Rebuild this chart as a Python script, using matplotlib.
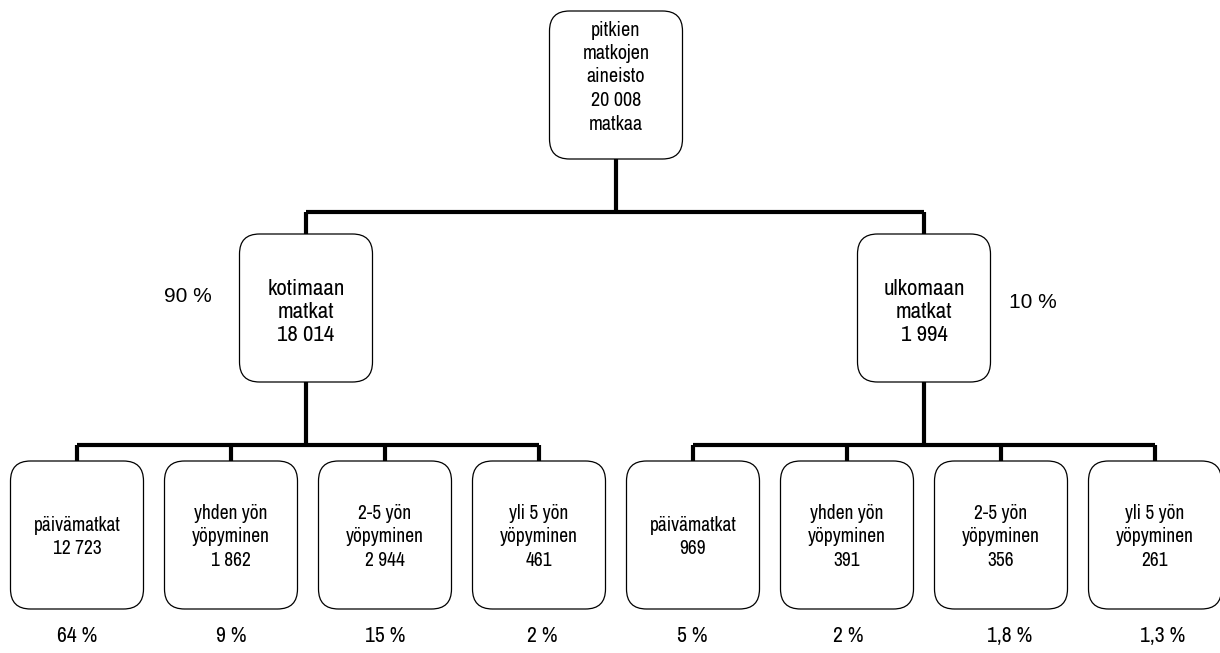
import matplotlib

matplotlib.use("Agg")
import matplotlib.pyplot as plt  # noqa: E402
from matplotlib.patches import FancyBboxPatch  # noqa: E402

NARROW = ["Archivo Narrow", "Roboto Condensed", "DejaVu Sans"]
plt.rcParams["font.family"] = NARROW

# --- data -------------------------------------------------------------
root_label = "pitkien\nmatkojen\naineisto"
root_count = "20 008"
root_unit = "matkaa"

group_labels = ["kotimaan\nmatkat", "ulkomaan\nmatkat"]
group_counts = ["18 014", "1 994"]
group_shares = ["90 %", "10 %"]

leaf_labels = ["päivämatkat", "yhden yön\nyöpyminen", "2-5 yön\nyöpyminen", "yli 5 yön\nyöpyminen"]
leaf_counts = [["12 723", "1 862", "2 944", "461"],
               ["969", "391", "356", "261"]]
leaf_shares = [["64 %", "9 %", "15 %", "2 %"],
               ["5 %", "2 %", "1,8 %", "1,3 %"]]

# --- layout (pixels, y grows downwards) ---------------------------------
W, H = 1220, 653
box_w, box_h = 133, 148
root_cx, root_top = 616, 11
group_cx = [306, 924]
group_top = 234
bus1_y = 212
leaf_x0 = [77, 693]
leaf_step = 154
leaf_top = 461
bus2_y = 445
share_y = 636
share_dx = [[0, 0, 0, 3], [-1, 1, 9, 8]]
lw_line = 3.0

fig = plt.figure(figsize=(W / 100, H / 100), dpi=100)
ax = fig.add_axes([0, 0, 1, 1])
ax.set_xlim(0, W)
ax.set_ylim(H, 0)
ax.axis("off")


def box(cx, top, text, size, dy=0, ls=1.3):
    p = FancyBboxPatch((cx - box_w / 2, top), box_w, box_h,
                       boxstyle="round,pad=0,rounding_size=20",
                       fc="white", ec="black", lw=0.9, zorder=3)
    ax.add_patch(p)
    ax.text(cx, top + box_h / 2 + dy, text, ha="center", va="center",
            fontsize=size, linespacing=ls, zorder=4)


def line(xs, ys):
    ax.plot(xs, ys, color="black", lw=lw_line, solid_capstyle="butt", zorder=2)


# root
box(root_cx, root_top, f"{root_label}\n{root_count}\n{root_unit}", 14.5, dy=-8)
line([root_cx, root_cx], [root_top + box_h, bus1_y])
line([group_cx[0], group_cx[1]], [bus1_y, bus1_y])

for g in range(2):
    gx = group_cx[g]
    line([gx, gx], [bus1_y, group_top])
    box(gx, group_top, f"{group_labels[g]}\n{group_counts[g]}", 16.5, dy=4, ls=1.2)
    share_x = gx - 118 if g == 0 else gx + 109
    ax.text(share_x, 297 + 5 * g, group_shares[g], ha="center", va="center",
            fontsize=15, family=["Liberation Sans", "DejaVu Sans"])

    # bus to leaves
    xs = [leaf_x0[g] + i * leaf_step for i in range(len(leaf_labels))]
    line([gx, gx], [group_top + box_h, bus2_y])
    line([xs[0], xs[-1]], [bus2_y, bus2_y])
    for i, lx in enumerate(xs):
        line([lx, lx], [bus2_y, leaf_top])
        box(lx, leaf_top, f"{leaf_labels[i]}\n{leaf_counts[g][i]}", 14, dy=2)
        ax.text(lx + share_dx[g][i], share_y, leaf_shares[g][i],
                ha="center", va="center", fontsize=15.5)

fig.savefig("out.png", dpi=100)
